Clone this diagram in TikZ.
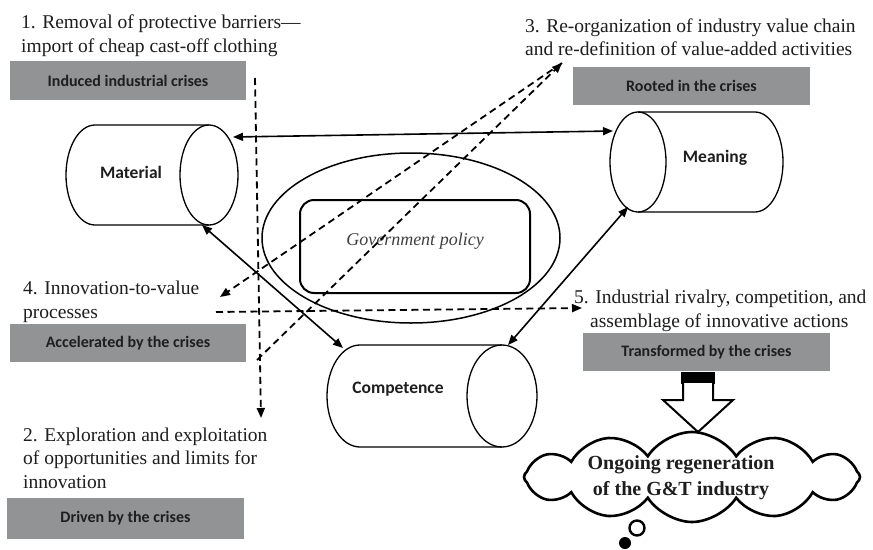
\documentclass[tikz,border=0pt]{standalone}
\usepackage{fontspec}
\setmainfont{Liberation Serif}
\newfontfamily\boxfont{Carlito}
\usetikzlibrary{arrows.meta,shapes.symbols,shapes.geometric}
\definecolor{boxgray}{RGB}{146,147,149}
\definecolor{ink}{RGB}{30,30,30}
\tikzset{
  crisis/.style={fill=boxgray, draw=none, inner sep=0pt, text=ink,
    font=\boxfont\bfseries\fontsize{16}{19}\selectfont},
  step label/.style={font=\fontsize{19.5}{23.5}\selectfont, align=left,
    anchor=base west, inner sep=0pt, text=ink},
  cyltext/.style={font=\boxfont\bfseries\fontsize{17.5}{20}\selectfont, text=ink, inner sep=0pt},
  cyl/.style={line width=1.3pt},
  tip/.tip={Triangle[length=10pt,width=8pt]},
  link/.style={line width=1.6pt, tip-tip},
  dlink/.style={line width=1.8pt, dash pattern=on 7pt off 4.5pt, -tip},
}
\begin{document}
\begin{tikzpicture}[x=1pt,y=-1pt]
\useasboundingbox[fill=white] (0,0) rectangle (873,549);

% crisis boxes
\node[crisis, minimum width=236pt, minimum height=39pt] (b1) at (128,80.5) {Induced industrial crises};
\node[crisis, minimum width=237pt, minimum height=38pt] (b3) at (691.5,86) {Rooted in the crises};
\node[crisis, minimum width=236pt, minimum height=38pt] (b4) at (128,343) {Accelerated by the crises};
\node[crisis, minimum width=247pt, minimum height=38pt] (b5) at (706.5,352) {Transformed by the crises};
\node[crisis, minimum width=237pt, minimum height=41pt] (b2) at (125.5,518.5) {Driven by the crises};

% step texts (anchor = baseline of the last line)
\node[step label] (t1) at (21,52) {1. Removal of protective barriers—\\import of cheap cast-off clothing};
\node[step label] (t3) at (525,55.5) {3. Re-organization of industry value chain\\and re-definition of value-added activities};
\node[step label] (t4) at (23,318) {4. Innovation-to-value\\processes};
\node[step label] (t2) at (23,488) {2. Exploration and exploitation\\of opportunities and limits for\\innovation};
\node[step label] (t5) at (574,327) {5. Industrial rivalry, competition, and\\\hspace*{16pt}assemblage of innovative actions};

% government policy
\node[draw, ellipse, line width=1.5pt, minimum width=298pt, minimum height=170pt, inner sep=0pt] (govring) at (411,238) {};
\node[draw, rounded corners=14pt, line width=2pt, minimum width=230pt, minimum height=93pt, inner sep=0pt] (govbox) at (415,246.5) {};
\node[font=\itshape\fontsize{18}{20}\selectfont, text=ink!85, inner sep=0pt] (policy) at (415,241) {Government policy};

% cylinders
\draw[cyl] (209,125) -- (95,125) arc[start angle=90,end angle=270,x radius=29pt,y radius=50pt] -- (209,225);
\draw[cyl] (209,175) ellipse [x radius=29pt, y radius=50pt];
\node[cyltext] (material) at (131,172) {Material};

\draw[cyl] (638,112) -- (755,112) arc[start angle=90,end angle=-90,x radius=28pt,y radius=50pt] -- (638,212);
\draw[cyl] (638,162) ellipse [x radius=28pt, y radius=50pt];
\node[cyltext] (meaning) at (715,158) {Meaning};

\draw[cyl] (502,345) -- (360,345) arc[start angle=90,end angle=270,x radius=33pt,y radius=51pt] -- (502,447);
\draw[cyl] (502,396) ellipse [x radius=35pt, y radius=51pt];
\node[cyltext] (competence) at (398,389) {Competence};

% connector end points
\coordinate (matA) at (233,137);
\coordinate (meanA) at (613,131);
\coordinate (matB) at (202,225);
\coordinate (compA) at (343,348);
\coordinate (compB) at (508,345);
\coordinate (meanB) at (628,207);
\coordinate (vtop) at (255,78);
\coordinate (vend) at (261,418);
\coordinate (hstart) at (216,312);
\coordinate (hend) at (582,308);
\coordinate (dtop) at (562,63);
\coordinate (dA) at (220,297);
\coordinate (dB) at (257,360);

\draw[link] (matA) -- (meanA);
\draw[link] (matB) -- (compA);
\draw[link] (compB) -- (meanB);

\draw[dlink] (vtop) -- (vend);
\draw[dlink] (hstart) -- (hend);
\draw[dlink] (dtop) -- (dA);
\draw[dlink] (dB) -- (dtop);

% block arrow
\fill[black] (681,372) rectangle (715,384);
\draw[line width=2pt, fill=white, line join=miter] (683,383) -- (683,400) -- (663,400) -- (698,432) -- (733,400) -- (713,400) -- (713,383);

% cloud
\node[cloud, draw, line width=2.6pt, cloud puffs=12, cloud puff arc=115, aspect=3.6,
  minimum width=336pt, minimum height=90pt, inner sep=0pt] (cloud) at (692,477) {};
\node[font=\bfseries\fontsize{20}{26}\selectfont, align=center, text=ink, inner sep=0pt] (regen) at (681,478) {Ongoing regeneration\\of the G\&T industry};
\draw[line width=2.4pt, fill=white] (637,528) circle (7.5pt);
\fill[black] (625,543) circle (6pt);
\end{tikzpicture}
\end{document}
